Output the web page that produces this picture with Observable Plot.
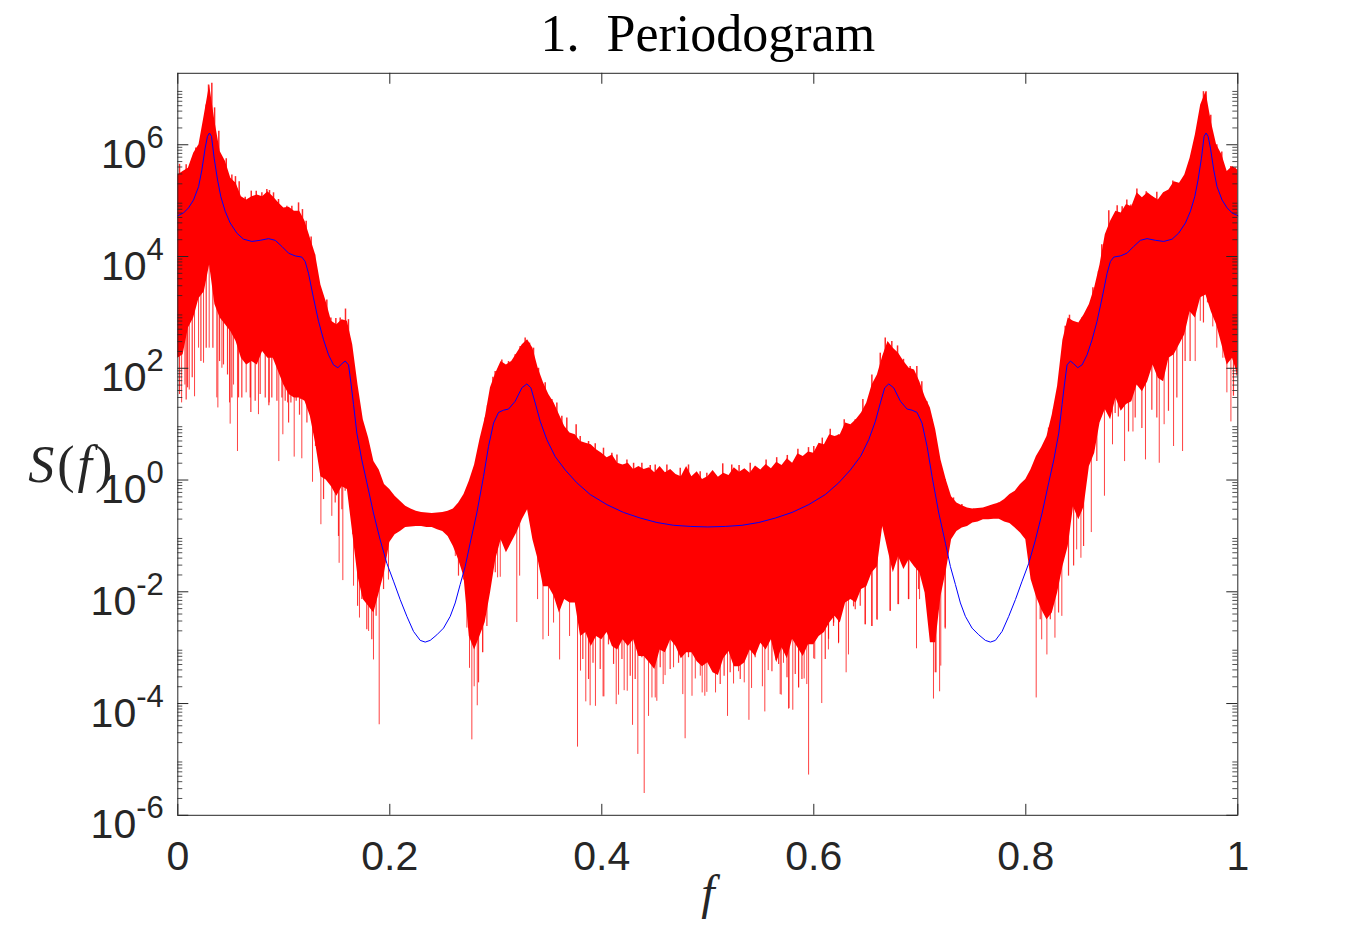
<!DOCTYPE html>
<html>
<head>
<meta charset="utf-8">
<script src="https://cdn.jsdelivr.net/npm/d3@7"></script>
<script src="https://cdn.jsdelivr.net/npm/@observablehq/plot@0.6"></script>
<style>
  body { margin: 0; background: white; }
</style>
</head>
<body>
<div id="chart"></div>
<script>
// periodogram band, log10 S(f)
const bandF = [
  0,.005,.01,.015,.02,.025,.03,.035,.04,.045,.05,.055,.06,.065,.07,.075,.08,.085,.09,.095,
  .1,.105,.11,.115,.12,.125,.13,.135,.14,.145,.15,.155,.16,.165,.17,.175,.18,.185,.19,.195,
  .2,.205,.21,.215,.22,.225,.23,.235,.24,.245,.25,.255,.26,.265,.27,.275,.28,.285,.29,.295,
  .3,.305,.31,.315,.32,.325,.33,.335,.34,.345,.35,.355,.36,.365,.37,.375,.38,.385,.39,.395,
  .4,.405,.41,.415,.42,.425,.43,.435,.44,.445,.45,.455,.46,.465,.47,.475,.48,.485,.49,.495,
  .5,.505,.51,.515,.52,.525,.53,.535,.54,.545,.55,.555,.56,.565,.57,.575,.58,.585,.59,.595,
  .6,.605,.61,.615,.62,.625,.63,.635,.64,.645,.65,.655,.66,.665,.67,.675,.68,.685,.69,.695,
  .7,.705,.71,.715,.72,.725,.73,.735,.74,.745,.75,.755,.76,.765,.77,.775,.78,.785,.79,.795,
  .8,.805,.81,.815,.82,.825,.83,.835,.84,.845,.85,.855,.86,.865,.87,.875,.88,.885,.89,.895,
  .9,.905,.91,.915,.92,.925,.93,.935,.94,.945,.95,.955,.96,.965,.97,.975,.98,.985,.99,.995,1
];
const bandTop = [
  5.46,5.52,5.58,5.85,6.0,6.53,7.07,6.42,5.88,5.70,5.40,5.31,5.07,5.01,5.07,5.10,5.07,5.16,5.07,4.96,
  4.87,4.88,4.81,4.81,4.63,4.33,4.03,3.49,3.19,2.84,2.78,2.87,2.84,2.42,1.70,1.08,.75,.33,.18,-.08,
  -.17,-.29,-.38,-.47,-.52,-.56,-.58,-.59,-.60,-.59,-.58,-.56,-.52,-.41,-.26,-.02,.27,.72,1.11,1.65,
  1.91,2.12,2.06,2.12,2.27,2.42,2.51,2.36,2.0,1.74,1.53,1.38,1.17,.96,.84,.81,.69,.66,.63,.54,
  .48,.40,.45,.30,.27,.30,.19,.24,.19,.22,.13,.24,.13,.19,.10,.06,.24,.06,.15,.01,
  .06,.17,.05,.12,.08,.22,.14,.20,.12,.25,.18,.28,.20,.32,.26,.38,.30,.47,.42,.50,
  .48,.66,.63,.81,.78,.81,1.02,.99,1.08,1.20,1.38,1.70,1.88,2.21,2.48,2.36,2.27,2.12,2.0,1.97,
  1.76,1.49,1.29,.90,.36,0,-.30,-.41,-.46,-.50,-.52,-.51,-.50,-.47,-.44,-.41,-.35,-.26,-.20,-.08,
  .01,.19,.42,.58,.78,1.17,1.68,2.50,2.90,2.84,2.81,2.96,3.14,3.44,3.85,4.39,4.63,4.81,4.78,4.93,
  4.89,5.14,5.05,5.14,5.07,5.01,5.14,5.19,5.34,5.31,5.46,5.76,6.18,6.71,6.95,6.41,6.0,5.82,5.52,5.61,5.55
];
const bandLow = [
  2.18,2.24,2.72,2.90,3.25,3.37,3.85,3.14,2.90,2.78,2.66,2.48,2.18,2.06,2.12,2.06,2.30,2.18,2.18,1.94,
  1.70,1.53,1.47,1.47,1.41,1.14,.66,.06,0,-.12,-.29,-.12,-.17,-.95,-1.73,-2.14,-2.26,-2.38,-2.02,-1.66,
  -1.12,-.98,-.92,-.85,-.84,-.83,-.83,-.85,-.85,-.89,-.92,-1.01,-1.19,-1.43,-1.73,-2.8,-3.04,-2.8,-2.55,-2.02,
  -1.42,-1.07,-1.30,-1.12,-.94,-.71,-.53,-1.07,-1.43,-1.91,-1.91,-2.08,-2.38,-2.14,-2.2,-2.2,-2.8,-2.73,-2.98,-2.80,
  -2.86,-2.73,-2.98,-3.04,-2.86,-2.98,-2.86,-3.16,-3.16,-3.27,-3.39,-3.04,-3.09,-2.86,-2.98,-3.2,-3.09,-3.09,-3.25,-3.34,
  -3.27,-3.45,-3.5,-3.2,-3.07,-3.34,-3.34,-3.27,-3.04,-3.16,-2.92,-3.04,-2.86,-3.27,-3.0,-3.2,-2.85,-3.0,-3.16,-2.95,
  -2.95,-2.8,-2.73,-2.56,-2.44,-2.56,-2.2,-2.14,-2.2,-1.96,-1.91,-1.66,-1.55,-.83,-1.25,-1.66,-1.37,-1.6,-1.42,-1.55,
  -1.66,-2.02,-2.91,-2.91,-2.08,-1.63,-1.07,-.92,-.86,-.83,-.77,-.75,-.71,-.71,-.70,-.70,-.75,-.78,-.86,-.95,
  -1.07,-1.78,-2.09,-2.32,-2.5,-2.38,-2.02,-1.55,-1.19,-.48,-.71,-.48,.24,.48,1.02,1.26,1.08,1.47,1.23,1.35,
  1.40,1.70,1.58,1.76,2.06,1.82,1.76,2.18,2.24,2.42,2.60,3.01,2.90,3.26,3.31,3.01,2.78,2.42,2.06,2.18,1.88
];

// the long downward spikes below the band
const spikeF = [
  .0036,.0067,.0108,.0158,.0196,.0243,.0296,.0368,.0378,.0416,.0488,.0494,.0526,.0563,.0645,.0761,.0862,.0953,.0991,.1035,
  .1098,.1170,.1271,.1350,.1453,.1522,.1557,.1658,.1714,.1800,.1846,.1900,.1987,.2618,.2727,.2752,.2774,.2796,.2825,.2875,
  .2878,.3017,.3042,.3198,.3225,.3394,.3445,.3497,.3545,.3602,.3696,.3771,.3799,.3849,.3890,.3940,.4012,.4020,.4136,.4158,
  .4211,.4240,.4290,.4340,.4400,.4441,.4473,.4504,.4519,.4579,.4597,.4677,.4764,.4786,.4851,.4882,.4929,.4947,.4972,.4991,
  .5073,.5186,.5243,.5290,.5344,.5388,.5413,.5515,.5538,.5570,.5643,.5683,.5693,.5714,.5762,.5767,.5802,.5856,.5858,.5909,
  .5934,.5951,.5999,.6009,.6075,.6138,.6233,.6305,.6327,.6485,.6548,.6598,.6720,.6793,.6897,.6969,.6998,.7083,.7129,.7154,
  .7187,.7198,.7240,.8098,.8150,.8199,.8275,.8340,.8480,.8520,.8618,.8742,.8818,.8932,.9011,.9129,.9259,.9305,.9394,.9479,
  .9598,.9646,.9764,.9802,.9859,.9897,.9935,.9987
];
const spikeLow = [
  1.38,1.70,1.61,1.49,2.36,2.09,2.36,1.47,1.29,2.00,1.38,1.00,1.70,.51,1.56,1.17,1.38,.33,.81,1.38,
  .41,.38,-.04,-.80,-.65,-1.49,-1.80,-1.90,-2.47,-2.71,-3.22,-4.38,-1.79,-1.37,-2.65,-3.37,-4.65,-3.70,-4.04,-3.09,
  -3.09,-1.75,-1.74,-2.55,-1.72,-2.14,-2.86,-2.80,-2.56,-3.22,-2.80,-4.78,-3.42,-3.97,-4.04,-4.05,-3.88,-3.88,-4.02,-3.85,
  -3.77,-3.78,-4.39,-4.91,-5.61,-4.23,-3.90,-3.90,-3.96,-3.66,-3.50,-3.36,-3.84,-4.63,-3.87,-3.56,-3.51,-3.81,-3.87,-3.80,
  -3.81,-4.23,-3.65,-3.43,-3.63,-4.30,-3.73,-3.70,-4.15,-3.41,-3.23,-3.84,-3.85,-3.28,-4.10,-4.09,-4.12,-3.72,-3.72,-3.56,
  -3.66,-5.28,-3.20,-3.21,-4.00,-3.04,-2.93,-3.45,-3.13,-2.59,-2.62,-2.51,-2.35,-2.23,-2.14,-3.02,-2.14,-1.96,-3.92,-3.45,
  -3.79,-3.33,-2.67,-3.90,-2.86,-3.13,-2.83,-2.44,-1.25,-1.40,-.94,-.29,.63,.33,.86,.36,.30,.99,.60,.51,
  2.12,2.84,2.74,2.36,2.18,1.56,1.04,1.86
];

// shorter downward spikes that make the lower edge rough
const shortSpikeF = [
  .0016,.0079,.0092,.0136,.0218,.0268,.0331,.0394,.0431,.0469,.0510,.0573,.0604,.0683,.0689,.0730,.0777,.0825,.0859,.0887,
  .0935,.0982,.1013,.1045,.1067,.1117,.1148,.1155,.1211,.1218,.1299,.1327,.1375,.1406,.1431,.1485,.1516,.1548,.1579,.1626,
  .1651,.1696,.1736,.1783,.1830,.1871,.1941,.2648,.2695,.2837,.2916,.2963,.2995,.3073,
  .3821,.3875,.3917,.3985,.4063,.4111,.4190,.4268,.4315,.4378,.4551,.4645,.4724,.4818,.4913,.5022,.5117,.5154,.5211,.5306,
  .5447,.5605,.5668,.5747,.5825,.5888,.5987,.6108,.6139,.6186,.6187,.6234,.6280,.6375,.6391,.6438,.6485,.6548,.6595,.6721,
  .6799,.6893,.6988,.7092,.7146,.7239,.8074,.8136,.8231,.8309,.8403,.8451,.8545,.8670,.8796,.8843,.8873,.8969,.9032,.9095,
  .9189,.9236,.9346,.9425,.9503,.9550,.9676,.9714,.9802,.9834,.9881,.9959
];
const shortSpikeLow = [
  1.53,1.43,1.65,1.83,2.12,2.36,2.36,2.12,2.06,1.88,1.47,1.47,1.47,1.47,1.21,1.41,1.53,1.47,1.33,1.47,
  1.41,1.47,1.41,1.02,1.38,1.41,1.16,1.44,1.41,1.02,.60,.51,-.35,.36,-.05,-.41,-1.01,-.53,-.20,-.35,
  -.98,-2.26,-2.14,-2.68,-2.86,-2.44,-1.96,-1.72,-1.79,-3.63,-2.62,-1.42,-1.66,-1.07,
  -3.21,-3.57,-3.28,-3.39,-2.95,-3.30,-3.21,-3.51,-3.57,-3.18,-3.36,-3.39,-3.28,-3.18,-3.25,-3.33,-3.66,-3.51,-3.45,-3.57,
  -3.18,-3.43,-3.30,-3.54,-3.48,-3.57,-2.89,-3.21,-2.85,-2.62,-2.56,-2.91,-1.90,-2.27,-2.32,-2.26,-2.59,-2.62,-2.50,-2.35,
  -2.23,-2.14,-1.96,-2.14,-3.45,-2.65,-1.84,-2.50,-2.50,-2.38,-1.72,-1.54,-1.19,.33,1.35,1.19,1.13,.86,1.11,.92,
  1.25,1.11,1.23,1.47,2.12,2.12,2.81,3.17,3.14,2.60,2.18,1.50
];

// small peaks along the upper edge
const topSpikeF = [
  .0016,.0079,.0170,.0211,.0268,.0290,.0321,.0347,.0387,.0457,.0510,.0544,.0579,.0636,.0693,.0740,.0793,.0840,.0865,.0903,
  .0950,.1029,.1076,.1139,.1176,.1211,.1258,.1290,.1334,.1359,.1406,.1444,.1491,.1532,.1582,.1610,
  .2900,.2922,.2973,.2994,.3057,.3120,.3183,.3230,.3277,.3318,.3356,.3403,.3466,.3529,.3576,.3623,.3670,.3758,.3796,.3875,
  .3938,.4016,.4095,.4143,.4237,.4300,.4378,.4457,.4504,.4614,.4740,.4818,.4928,.4991,.5141,.5226,.5295,.5400,.5550,.5650,
  .5750,.5850,.5950,.6000,.6080,.6155,.6233,.6287,.6391,.6463,.6548,.6627,.6674,.6736,.6790,.6846,.6909,.6972,.7019,.7067,
  .7113,.7167,.7239,.7318,.7397,.7507,.7648,.7742,.7868,.7947,.8026,.8104,.8161,.8215,.8262,.8324,.8362,.8372,.8412,.8482,
  .8529,.8576,.8633,.8686,.8717,.8758,.8783,.8821,.8862,.8909,.8953,.8991,.9048,.9095,.9136,.9189,.9236,.9299,.9346,.9387,
  .9425,.9487,.9535,.9582,.9629,.9676,.9701,.9745,.9802,.9849,.9903,.9934,.9975
];
const topSpikeLog = [
  5.65,5.64,5.94,5.99,6.71,7.07,7.10,6.66,6.24,5.75,5.46,5.43,5.34,5.06,5.17,5.17,5.14,5.20,5.18,5.14,
  5.02,4.90,4.90,4.96,4.84,4.63,4.35,4.03,3.49,3.34,3.22,2.90,2.89,2.90,3.06,2.87,
  1.11,1.33,1.84,1.94,2.15,2.12,2.24,2.39,2.54,2.45,2.36,2.0,1.74,1.44,1.38,1.14,1.11,.99,.78,.69,
  .65,.57,.48,.45,.36,.30,.30,.26,.27,.27,.21,.27,.15,.12,.29,.27,.26,.30,.36,.40,
  .44,.55,.58,.60,.75,.91,.81,1.08,1.08,1.44,1.88,2.27,2.54,2.48,2.40,2.16,2.03,2.03,1.76,1.40,
  1.08,.31,.01,-.32,-.44,-.52,-.48,-.41,-.32,-.20,-.05,.21,.48,.93,1.26,1.97,2.51,2.75,2.95,2.81,
  2.90,3.02,3.44,3.73,4.21,4.33,4.82,4.66,4.91,4.89,5.01,4.92,5.21,5.01,5.16,5.07,5.15,5.01,5.15,5.35,
  5.28,5.37,5.58,5.85,6.36,6.95,6.95,6.53,6.0,5.87,5.52,5.61,5.59
];

// smooth spectrum, log10 S(f)
const lineF = [
  0,.0054,.0101,.0148,.0196,.0227,.0258,.0280,.0299,.0318,.0343,.0375,.0406,.0447,.0494,.0557,.0620,.0699,.0777,.0856,
  .0919,.0982,.1045,.1108,.1170,.1202,.1233,.1280,.1328,.1375,.1422,.1469,.1510,.1548,.1579,.1611,.1636,.1658,.1689,.1736,
  .1784,.1846,.1909,.1972,.2035,.2098,.2161,.2224,.2287,.2334,.2381,.2444,.2507,.2570,.2617,.2664,.2711,.2758,.2821,.2884,
  .2931,.2979,.3026,.3073,.3120,.3183,.3246,.3293,.3331,.3372,.3419,.3482,.3560,.3655,.3765,.3891,.4048,.4205,.4362,.4519,
  .4677,.4834,.5,.5166,.5323,.5481,.5638,.5795,.5952,.6109,.6235,.6345,.6440,.6518,.6581,.6628,.6669,.6707,.6754,.6817,
  .6880,.6927,.6974,.7021,.7069,.7116,.7179,.7242,.7289,.7336,.7383,.7430,.7493,.7556,.7619,.7666,.7713,.7776,.7839,.7902,
  .7965,.8028,.8091,.8154,.8216,.8264,.8311,.8342,.8364,.8389,.8421,.8452,.8490,.8531,.8578,.8625,.8672,.8720,.8767,.8798,
  .8830,.8892,.8955,.9018,.9081,.9144,.9223,.9301,.9380,.9443,.9506,.9553,.9594,.9625,.9657,.9682,.9701,.9720,.9742,.9773,
  .9804,.9852,.9899,.9946,1
];
const lineLog = [
  4.73,4.78,4.87,5.01,5.25,5.55,5.94,6.15,6.21,6.15,5.76,5.37,5.07,4.81,4.60,4.42,4.31,4.27,4.29,4.32,
  4.29,4.18,4.06,4.01,3.99,3.91,3.70,3.26,2.84,2.51,2.24,2.06,2.01,2.08,2.13,2.06,1.70,1.35,.84,.36,
  -.05,-.59,-1.07,-1.49,-1.81,-2.14,-2.44,-2.71,-2.87,-2.90,-2.87,-2.77,-2.65,-2.44,-2.20,-1.87,-1.55,-1.13,-.59,.06,
  .60,1.02,1.21,1.25,1.27,1.41,1.65,1.72,1.65,1.38,1.05,.72,.42,.18,-.05,-.26,-.44,-.58,-.68,-.76,
  -.81,-.83,-.84,-.83,-.81,-.76,-.68,-.58,-.44,-.26,-.05,.18,.42,.72,1.05,1.38,1.65,1.72,1.65,1.41,
  1.27,1.25,1.21,1.02,.60,.06,-.59,-1.13,-1.55,-1.87,-2.20,-2.44,-2.65,-2.77,-2.87,-2.90,-2.87,-2.71,-2.44,-2.14,
  -1.81,-1.49,-1.07,-.59,-.05,.36,.84,1.35,1.70,2.06,2.13,2.08,2.01,2.06,2.24,2.51,2.84,3.26,3.70,3.91,
  3.99,4.01,4.06,4.18,4.29,4.32,4.29,4.27,4.31,4.42,4.60,4.81,5.07,5.37,5.76,6.15,6.21,6.15,5.94,5.55,
  5.25,5.01,4.87,4.78,4.73
];

const xTicks = [0, 0.2, 0.4, 0.6, 0.8, 1];
const xLabels = ["0", "0.2", "0.4", "0.6", "0.8", "1"];
const yExponents = [-6, -4, -2, 0, 2, 4, 6];
const minorDecades = [-6, -5, -4, -3, -2, -1, 0, 1, 2, 3, 4, 5, 6, 7];
const minorSteps = [2, 3, 4, 5, 6, 7, 8, 9];

const titleText = "1. Periodogram";
const xLabelText = "f";
const yLabelText = "S(f)";

const inkColor = "#262626";
const yMajor = yExponents.map(e => 10 ** e);
const yMinor = minorDecades.flatMap(e => minorSteps.map(s => s * 10 ** e)).filter(v => v < 1.9e7);

// middle of the band at f, where a spike starts from
const bandMid = f => {
  const k = Math.round(f * 200);
  return 10 ** ((bandTop[k] + bandLow[k]) / 2);
};

const band = bandF.map((f, i) => ({ f, top: 10 ** bandTop[i], low: 10 ** bandLow[i] }));
const spikes = spikeF.map((f, i) => ({ f, end: 10 ** spikeLow[i], start: bandMid(f) }));
const shortSpikes = shortSpikeF.map((f, i) => ({ f, end: 10 ** shortSpikeLow[i], start: bandMid(f) }));
const topSpikes = topSpikeF.map((f, i) => ({ f, end: 10 ** topSpikeLog[i], start: bandMid(f) }));
const spectrum = lineF.map((f, i) => ({ f, s: 10 ** lineLog[i] }));

let chart = Plot.plot({
  width: 1367,
  height: 938,
  marginLeft: 177.3,
  marginRight: 129.7,
  marginTop: 72.8,
  marginBottom: 123.2,
  style: { background: "white", wordSpacing: "14px" },
  x: { domain: [0, 1] },
  y: { type: "log", domain: [1e-6, 1.9e7] },
  marks: [
    Plot.areaY(band, { x: "f", y1: "low", y2: "top", fill: "#ff0000" }),
    Plot.ruleX(spikes, { x: "f", y1: "end", y2: "start", stroke: "#ff0000", strokeWidth: 1, strokeOpacity: 0.75 }),
    Plot.ruleX(shortSpikes, { x: "f", y1: "end", y2: "start", stroke: "#ff0000", strokeWidth: 1.2, strokeOpacity: 0.8 }),
    Plot.ruleX(topSpikes, { x: "f", y1: "start", y2: "end", stroke: "#ff0000", strokeWidth: 1.5, strokeOpacity: 0.85 }),
    Plot.line(spectrum, { x: "f", y: "s", stroke: "#0000ff", strokeWidth: 1 }),

    // box ticks pointing inwards, all four sides
    Plot.ruleY(yMinor, { y: d => d, x1: 0, x2: 0.0047, stroke: inkColor, strokeWidth: 0.8 }),
    Plot.ruleY(yMinor, { y: d => d, x1: 0.9953, x2: 1, stroke: inkColor, strokeWidth: 0.8 }),
    Plot.ruleY(yMajor, { y: d => d, x1: 0, x2: 0.0104, stroke: inkColor, strokeWidth: 1 }),
    Plot.ruleY(yMajor, { y: d => d, x1: 0.9896, x2: 1, stroke: inkColor, strokeWidth: 1 }),
    Plot.ruleX(xTicks, { x: d => d, y1: 1e-6, y2: 1.57e-6, stroke: inkColor, strokeWidth: 1 }),
    Plot.ruleX(xTicks, { x: d => d, y1: 1.9e7, y2: 1.21e7, stroke: inkColor, strokeWidth: 1 }),
    Plot.frame({ stroke: inkColor, strokeWidth: 1 }),

    Plot.axisX(xTicks, {
      tickSize: 0, tickPadding: 26, label: null, color: inkColor,
      fontSize: 41, fontFamily: "Liberation Sans",
      tickFormat: d => xLabels[xTicks.indexOf(d)]
    }),
    Plot.axisY(yMajor, {
      tickSize: 0, tickPadding: 14, label: null, color: inkColor,
      fontSize: 41, fontFamily: "Liberation Sans",
      tickFormat: d => "10|" + Math.round(Math.log10(d))
    }),

    Plot.text([titleText], {
      frameAnchor: "top", lineAnchor: "bottom", dy: -22,
      fontFamily: "Liberation Serif", fontSize: 52, fill: "black"
    }),
    Plot.text([xLabelText], {
      frameAnchor: "bottom", dy: 94,
      fontFamily: "Liberation Serif", fontStyle: "italic", fontSize: 48, fill: inkColor
    }),
    Plot.text([yLabelText], {
      frameAnchor: "left", dx: -106, dy: 21, textAnchor: "middle",
      fontFamily: "Liberation Serif", fontSize: 52, fill: inkColor
    })
  ]
});

// superscript exponents on the y labels
d3.select(chart).selectAll('[aria-label="y-axis tick label"] text').each(function () {
  const t = d3.select(this);
  const [base, exp] = t.text().split("|");
  t.text("");
  t.append("tspan").attr("dy", 10).text(base);
  t.append("tspan").attr("dy", -20).attr("font-size", 31).text(exp);
});

// S and f italic, brackets upright
d3.select(chart).selectAll("text").filter(function () { return this.textContent === yLabelText; }).each(function () {
  const t = d3.select(this).attr("letter-spacing", 3);
  t.text("");
  t.append("tspan").attr("font-style", "italic").text("S");
  t.append("tspan").text("(");
  t.append("tspan").attr("font-style", "italic").text("f");
  t.append("tspan").text(")");
});

d3.select("#chart").append(() => chart);
</script>
</body>
</html>
